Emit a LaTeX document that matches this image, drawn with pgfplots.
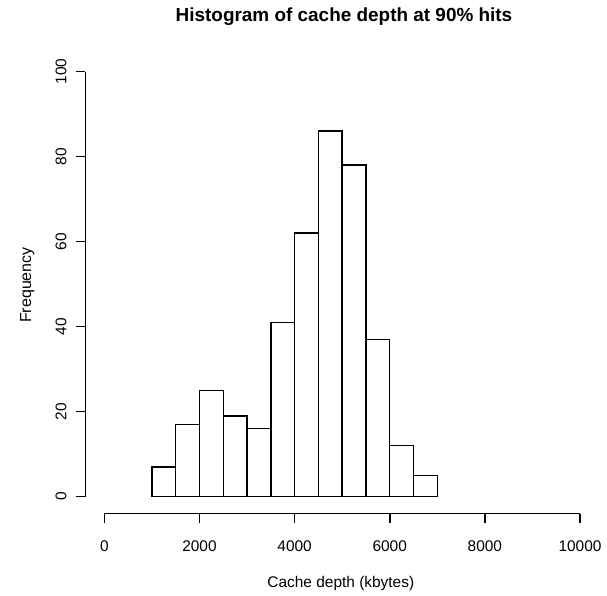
\documentclass[border=0pt]{standalone}
\usepackage{pgfplots}
\pgfplotsset{compat=1.18}
\usepackage{fontspec}
\setmainfont{Liberation Sans}
\begin{document}
\begin{tikzpicture}[x=1bp,y=1bp]
\useasboundingbox (0,0) rectangle (607,596);
\begin{axis}[
  at={(85.3bp,82.3bp)}, anchor=south west,
  scale only axis, width=513.7bp, height=459bp,
  xmin=-400, xmax=10400, ymin=-4, ymax=104,
  axis x line*=bottom, axis y line*=left,
  axis line style={draw=none},
  xtick={0,2000,4000,6000,8000,10000},
  ytick={0,20,40,60,80,100},
  tick align=outside, major tick length=9bp,
  tick style={black, line width=1.6bp},
  scaled ticks=false,
  /pgf/number format/.cd, 1000 sep={}, assume math mode=true,
  /pgfplots/.cd,
  ticklabel style={font=\fontsize{15.5}{18}\selectfont},
  xticklabel style={anchor=base, yshift=-29bp},
  yticklabel style={rotate=90, anchor=base, yshift=10bp},
  title={\fontsize{19}{22}\selectfont\bfseries Histogram of cache depth at 90\% hits},
  title style={at={(axis description cs:0.5036,1.0603)}, anchor=base},
  xlabel={\fontsize{15.5}{18}\selectfont Cache depth (kbytes)},
  xlabel style={at={(axis description cs:0.4974,-0.1597)}, anchor=base},
  ylabel={\fontsize{16}{18}\selectfont Frequency},
  ylabel style={at={(axis description cs:-0.1057,0.498)}, anchor=base},
  clip=false,
]
\addplot[ybar interval, fill=white, draw=black, line width=1.4bp] coordinates {
(1000,7) (1500,17) (2000,25) (2500,19) (3000,16) (3500,41)
(4000,62) (4500,86) (5000,78) (5500,37) (6000,12) (6500,5) (7000,5)};
\draw[line width=1.6bp] (axis cs:0,-4) -- (axis cs:10000,-4);
\draw[line width=1.6bp] (axis cs:-400,0) -- (axis cs:-400,100);
\end{axis}
\end{tikzpicture}
\end{document}
